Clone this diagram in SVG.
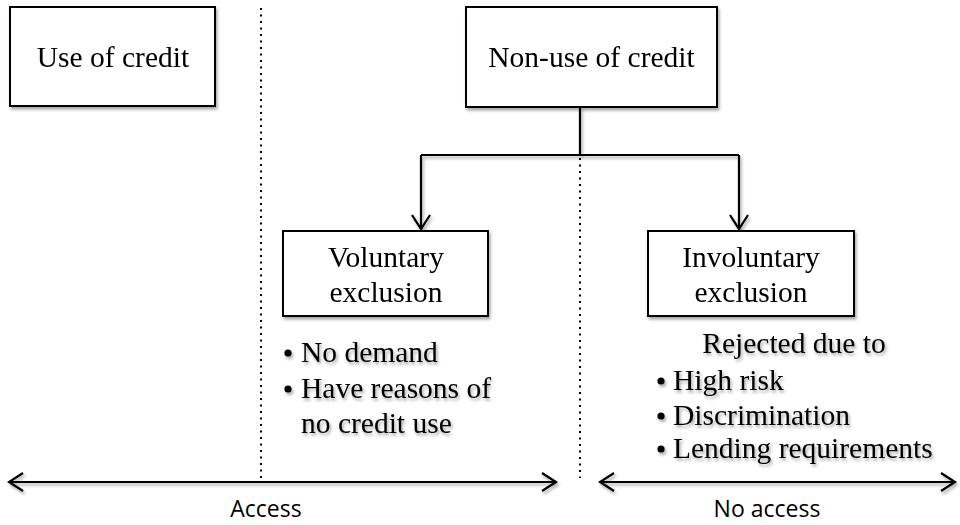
<svg xmlns="http://www.w3.org/2000/svg" width="960" height="525" viewBox="0 0 960 525">
  <defs>
    <filter id="soft" x="-10%" y="-10%" width="130%" height="140%">
      <feDropShadow dx="1.5" dy="2.5" stdDeviation="1.5" flood-color="#000" flood-opacity="0.35"/>
    </filter>
    <marker id="chev" viewBox="0 0 20 20" refX="18" refY="10" markerWidth="20" markerHeight="20" markerUnits="userSpaceOnUse" orient="auto-start-reverse">
      <path d="M4,1 L18,10 L4,19" fill="none" stroke="#000" stroke-width="2.2"/>
    </marker>
  </defs>
  <style>
    .box { fill: #fff; stroke: #000; stroke-width: 2; }
    .serif { font-family: "Liberation Serif", "Times New Roman", serif; font-size: 29.5px; fill: #000; }
    .sans { font-family: "Open Sans", "Liberation Sans", sans-serif; font-size: 23px; fill: #000; }
    .line { stroke: #000; stroke-width: 2.2; fill: none; }
    .dots { stroke: #000; stroke-width: 2; stroke-dasharray: 2 4.5; fill: none; }
    .shadow { filter: url(#soft); }
  </style>
  <rect width="960" height="525" fill="#fff"/>

  <!-- boundary lines between access zones -->
  <g id="dividers">
    <line class="dots" x1="261" y1="8" x2="261" y2="478"/>
    <line class="dots" x1="580" y1="158" x2="580" y2="478"/>
  </g>

  <!-- connectors -->
  <g id="connectors" class="shadow">
    <path class="line" d="M580,107 V155 M421,155 H739"/>
    <path class="line" d="M421,155 V229" marker-end="url(#chev)"/>
    <path class="line" d="M739,155 V229" marker-end="url(#chev)"/>
    <path class="line" d="M9,482 H556" marker-start="url(#chev)" marker-end="url(#chev)"/>
    <path class="line" d="M600,482 H955" marker-start="url(#chev)" marker-end="url(#chev)"/>
  </g>

  <g id="use-of-credit" class="shadow">
    <rect class="box" x="10" y="7" width="205" height="99"/>
    <text class="serif" x="113" y="67" text-anchor="middle">Use of credit</text>
  </g>

  <g id="non-use-of-credit" class="shadow">
    <rect class="box" x="466" y="7" width="251" height="100"/>
    <text class="serif" x="591.5" y="67" text-anchor="middle">Non-use of credit</text>
  </g>

  <g id="voluntary-exclusion" class="shadow">
    <rect class="box" x="283" y="231" width="205" height="85"/>
    <text class="serif" x="386" y="267" text-anchor="middle">Voluntary</text>
    <text class="serif" x="386" y="302" text-anchor="middle">exclusion</text>
  </g>

  <g id="voluntary-reasons" class="shadow">
    <circle cx="288" cy="353" r="3.6"/>
    <text class="serif" x="301" y="362">No demand</text>
    <circle cx="288" cy="389" r="3.6"/>
    <text class="serif" x="301" y="398">Have reasons of</text>
    <text class="serif" x="301" y="433">no credit use</text>
  </g>

  <g id="involuntary-exclusion" class="shadow">
    <rect class="box" x="648" y="231" width="206" height="85"/>
    <text class="serif" x="751" y="267" text-anchor="middle">Involuntary</text>
    <text class="serif" x="751" y="302" text-anchor="middle">exclusion</text>
  </g>

  <g id="involuntary-reasons" class="shadow">
    <text class="serif" x="794" y="353" text-anchor="middle">Rejected due to</text>
    <circle cx="661" cy="381" r="3.6"/>
    <text class="serif" x="673" y="390">High risk</text>
    <circle cx="661" cy="416" r="3.6"/>
    <text class="serif" x="673" y="425">Discrimination</text>
    <circle cx="661" cy="449" r="3.6"/>
    <text class="serif" x="673" y="458">Lending requirements</text>
  </g>

  <g id="axis-labels">
    <text class="sans" x="266" y="517" text-anchor="middle">Access</text>
    <text class="sans" x="767" y="517" text-anchor="middle">No access</text>
  </g>
</svg>
